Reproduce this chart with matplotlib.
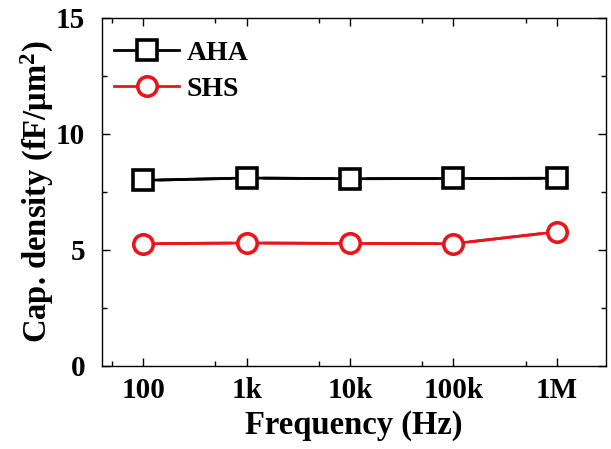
import matplotlib
matplotlib.use("Agg")
import matplotlib.pyplot as plt
from matplotlib.ticker import FixedLocator, NullFormatter

plt.rcParams["font.family"] = ["Liberation Serif", "DejaVu Serif"]
plt.rcParams["font.weight"] = "bold"
plt.rcParams["mathtext.fontset"] = "custom"
plt.rcParams["mathtext.rm"] = "Liberation Serif:bold"
plt.rcParams["mathtext.it"] = "Liberation Serif:bold"
plt.rcParams["mathtext.bf"] = "Liberation Serif:bold"

# --- data ---
freq = [1e2, 1e3, 1e4, 1e5, 1e6]
freq_labels = ["100", "1k", "10k", "100k", "1M"]
aha = [8.0, 8.1, 8.07, 8.08, 8.09]
shs = [5.27, 5.3, 5.28, 5.27, 5.78]

fig = plt.figure(figsize=(6.11, 4.49), dpi=100)
ax = fig.add_axes([0.167, 0.185, 0.825, 0.775])

for y, color, marker, label in [(aha, "black", "s", "AHA"), (shs, "#e8151b", "o", "SHS")]:
    ax.plot(freq, y, color=color, linewidth=2, zorder=1)
    # white halo so line stops short of each marker
    ax.plot(freq, y, linestyle="none", marker=marker, markersize=22,
            markerfacecolor="white", markeredgecolor="white", zorder=2)
    ax.plot(freq, y, color=color, linewidth=2, marker=marker, markersize=14,
            markerfacecolor="white", markeredgecolor=color, markeredgewidth=2.6,
            label=label, zorder=3)

ax.set_xscale("log")
ax.set_xlim(40, 3e6)
ax.set_ylim(0, 15)
ax.xaxis.set_major_locator(FixedLocator(freq))
ax.set_xticklabels(freq_labels)
ax.xaxis.set_minor_locator(FixedLocator([50, 500, 5e3, 5e4, 5e5]))
ax.xaxis.set_minor_formatter(NullFormatter())
ax.set_yticks([0, 5, 10, 15])
ax.yaxis.set_minor_locator(FixedLocator([2.5, 7.5, 12.5]))

ax.tick_params(which="both", direction="in", top=True, right=True, labelsize=21)
ax.tick_params(axis="x", pad=8)
ax.tick_params(axis="y", pad=12)
ax.tick_params(which="major", length=6, width=1)
ax.tick_params(which="minor", length=3.5, width=1)
for s in ax.spines.values():
    s.set_linewidth(1)

ax.set_xlabel("Frequency (Hz)", fontsize=23.5, fontweight="bold", labelpad=4)
ax.set_ylabel("Cap. density (fF/μm$^{2}$)", fontsize=23.5, fontweight="bold", labelpad=0)

ax.legend(loc="upper left", bbox_to_anchor=(0.002, 0.968), borderaxespad=0,
          frameon=False, fontsize=20, handlelength=2.35,
          handletextpad=0.25, labelspacing=0.4)

fig.savefig("out.png", dpi=100)
